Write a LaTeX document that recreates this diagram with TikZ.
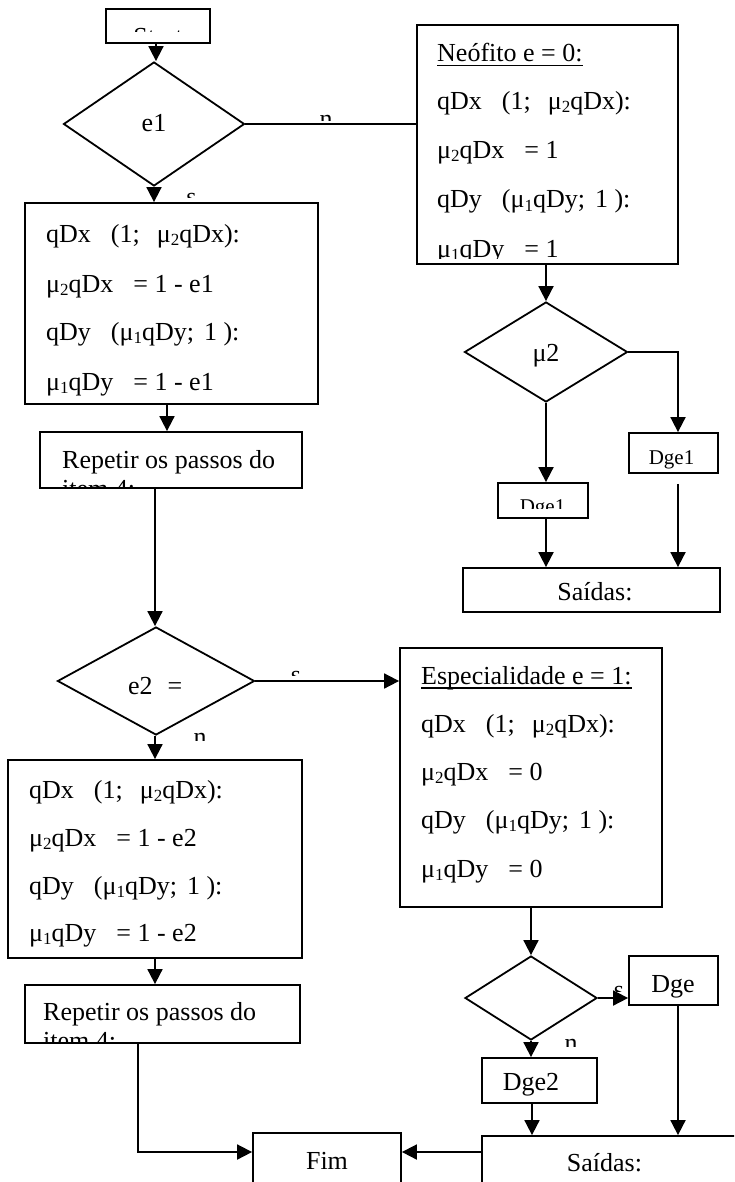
\documentclass[tikz,border=0pt]{standalone}
\usepackage{fontspec}
\setmainfont{Liberation Serif}
\usetikzlibrary{shapes.geometric,arrows.meta}
% lowered small digit after mu
\newcommand\sub[1]{\raisebox{-3pt}{\fontsize{17}{17}\selectfont #1}}
% underline at a fixed distance below the baseline
\newcommand\ulin[1]{\setbox0\hbox{#1}\rlap{\rule[-4.5pt]{\wd0}{1.6pt}}\box0}
\begin{document}
\begin{tikzpicture}[x=1pt,y=-1pt,font=\fontsize{26}{30}\selectfont,
  box/.style={draw,line width=1.8pt,inner sep=0pt},
  dia/.style={draw,shape=diamond,line width=1.8pt,inner sep=0pt},
  wire/.style={line width=1.8pt},
  arr/.style={wire,-{Triangle[length=15pt,width=15pt]}},
  lt/.style={anchor=base west,inner sep=0pt},
  ct/.style={anchor=base,inner sep=0pt},
  small/.style={font=\fontsize{21}{24}\selectfont}]
\clip (0,0) rectangle (734,1182);
\fill[white] (0,0) rectangle (734,1182);

% ---------- shapes ----------
\node[box,minimum width=104pt,minimum height=34pt] (start) at (158,26) {};
\node[dia,minimum width=181pt,minimum height=124pt] (e1) at (154,124) {};
\node[box,minimum width=261pt,minimum height=239pt] (neo) at (547.5,144.5) {};
\node[box,minimum width=293pt,minimum height=201pt] (boxA) at (171.5,303.5) {};
\node[box,minimum width=262pt,minimum height=56pt] (rep1) at (171,460) {};
\node[dia,minimum width=163pt,minimum height=100pt] (mu2) at (546,352) {};
\node[box,minimum width=89pt,minimum height=40pt] (dgeR) at (673.5,453) {};
\node[box,minimum width=90pt,minimum height=35pt] (dgeL) at (543,500.5) {};
\node[box,minimum width=257pt,minimum height=44pt] (sai1) at (591.5,590) {};
\node[dia,minimum width=197pt,minimum height=108pt] (e2) at (156,681) {};
\node[box,minimum width=262pt,minimum height=259pt] (esp) at (531,777.5) {};
\node[box,minimum width=294pt,minimum height=198pt] (boxB) at (155,859) {};
\node[box,minimum width=275pt,minimum height=58pt] (rep2) at (162.5,1014) {};
\node[dia,minimum width=132pt,minimum height=84pt] (d3) at (531,998) {};
\node[box,minimum width=89pt,minimum height=49pt] (dge3) at (673.5,980.5) {};
\node[box,minimum width=115pt,minimum height=45pt] (dge2) at (539.5,1080.5) {};
\node[box,minimum width=263pt,minimum height=60pt] (sai2) at (613.5,1166) {};
\node[box,minimum width=148pt,minimum height=62pt] (fim) at (327,1164) {};

% ---------- texts ----------
\begin{scope}
  \clip (108,11) rectangle (208,31.5);
  \node[ct] (tstart) at (158,46) {Start};
\end{scope}
\node[ct] (te1) at (154,132) {e1};

\node[lt] (neo0) at (437,62) {\ulin{Neófito e = 0:}};
\node[lt] (neo1) at (437,110) {qDx\hspace{20pt}(1;\hspace{17pt}μ\sub{2}qDx):};
\node[lt] (neo2) at (437,159) {μ\sub{2}qDx\hspace{20pt}= 1};
\node[lt] (neo3) at (437,208) {qDy\hspace{20pt}(μ\sub{1}qDy;\hspace{10pt}1 ):};
\begin{scope}
  \clip (419,230) rectangle (676,258);
  \node[lt] (neo4) at (437,257) {μ\sub{1}qDy\hspace{20pt}= 1};
\end{scope}

\node[lt] (a1) at (46,243) {qDx\hspace{20pt}(1;\hspace{17pt}μ\sub{2}qDx):};
\node[lt] (a2) at (46,292) {μ\sub{2}qDx\hspace{20pt}= 1 - e1};
\node[lt] (a3) at (46,340) {qDy\hspace{20pt}(μ\sub{1}qDy;\hspace{10pt}1 ):};
\node[lt] (a4) at (46,390) {μ\sub{1}qDy\hspace{20pt}= 1 - e1};

\begin{scope}
  \clip (42,434) rectangle (300,487.5);
  \node[lt] (r1a) at (62,468) {Repetir os passos do};
  \node[lt] (r1b) at (62,497) {item 4:};
\end{scope}

\node[ct] (tmu2) at (546,361) {μ2};
\node[ct,small] (tdgeR) at (671.5,464) {Dge1};
\begin{scope}
  \clip (500,485) rectangle (586,508);
  \node[ct,small] (tdgeL) at (542.5,513) {Dge1};
\end{scope}
\node[ct] (tsai1) at (595,600) {Saídas:};

\node[lt] (te2) at (128,694) {e2\hspace{15pt}=};

\node[lt] (s0) at (421,684) {\ulin{Especialidade e = 1:}};
\node[lt] (s1) at (421,732) {qDx\hspace{20pt}(1;\hspace{17pt}μ\sub{2}qDx):};
\node[lt] (s2) at (421,780) {μ\sub{2}qDx\hspace{20pt}= 0};
\node[lt] (s3) at (421,828) {qDy\hspace{20pt}(μ\sub{1}qDy;\hspace{10pt}1 ):};
\node[lt] (s4) at (421,877) {μ\sub{1}qDy\hspace{20pt}= 0};

\node[lt] (b1) at (29,798) {qDx\hspace{20pt}(1;\hspace{17pt}μ\sub{2}qDx):};
\node[lt] (b2) at (29,846) {μ\sub{2}qDx\hspace{20pt}= 1 - e2};
\node[lt] (b3) at (29,894) {qDy\hspace{20pt}(μ\sub{1}qDy;\hspace{10pt}1 ):};
\node[lt] (b4) at (29,941) {μ\sub{1}qDy\hspace{20pt}= 1 - e2};

\begin{scope}
  \clip (27,987) rectangle (298,1041.5);
  \node[lt] (r2a) at (43,1020) {Repetir os passos do};
  \node[lt] (r2b) at (43,1049) {item 4:};
\end{scope}

\node[ct] (tdge3) at (673,992) {Dge};
\node[ct] (tdge2) at (531,1090) {Dge2};
\node[ct] (tsai2) at (604.5,1171) {Saídas:};
\node[ct] (tfim) at (327,1169) {Fim};

% branch labels
\begin{scope}
  \clip (300,100) rectangle (350,121);
  \node[ct] (ln1) at (326,127.5) {n};
\end{scope}
\begin{scope}
  \clip (170,180) rectangle (210,198);
  \node[ct] (ls1) at (191.5,206) {s};
\end{scope}
\begin{scope}
  \clip (280,650) rectangle (320,675);
  \node[ct] (ls2) at (296,683) {s};
\end{scope}
\begin{scope}
  \clip (180,720) rectangle (220,740);
  \node[ct] (ln2) at (200,745) {n};
\end{scope}
\begin{scope}
  \clip (605,970) rectangle (627,991);
  \node[ct] (ls3) at (619,998.5) {s};
\end{scope}
\begin{scope}
  \clip (550,1020) rectangle (595,1046);
  \node[ct] (ln3) at (571,1051) {n};
\end{scope}

% ---------- connectors ----------
\draw[arr] (start.south -| 156,0) -- (e1.north -| 156,0);
\draw[wire] (e1.east) -- (e1.east -| neo.west);
\draw[arr] (e1.south) -- (boxA.north -| e1.south);
\draw[arr] (boxA.south -| 167,0) -- (rep1.north -| 167,0);
\draw[arr] (rep1.south -| 155,0) -- (e2.north -| 155,0);
\draw[arr] (e2.east) -- (e2.east -| esp.west);
\draw[arr] (e2.south -| 155,0) -- (boxB.north -| 155,0);
\draw[arr] (boxB.south -| 155,0) -- (rep2.north -| 155,0);
\draw[arr] (rep2.south -| 138,0) |- ([yshift=12pt]fim.west);
\draw[arr] ([yshift=14pt]sai2.west) -- ([yshift=12pt]fim.east);

\draw[arr] (neo.south -| 546,0) -- (mu2.north);
\draw[arr] (mu2.east) -| (dgeR.north -| 678,0);
\draw[arr] (mu2.south) -- (dgeL.north -| mu2.south);
\draw[arr] (dgeL.south -| 546,0) -- (sai1.north -| 546,0);
\draw[arr,shorten <=10pt] (dgeR.south -| 678,0) -- (sai1.north -| 678,0);

\draw[arr] (esp.south -| 531,0) -- (d3.north);
\draw[arr] (d3.east) -- (d3.east -| dge3.west);
\draw[arr] (d3.south) -- (dge2.north -| d3.south);
\draw[arr] (dge2.south -| 532,0) -- (sai2.north -| 532,0);
\draw[arr] (dge3.south -| 678,0) -- (sai2.north -| 678,0);
\end{tikzpicture}
\end{document}
